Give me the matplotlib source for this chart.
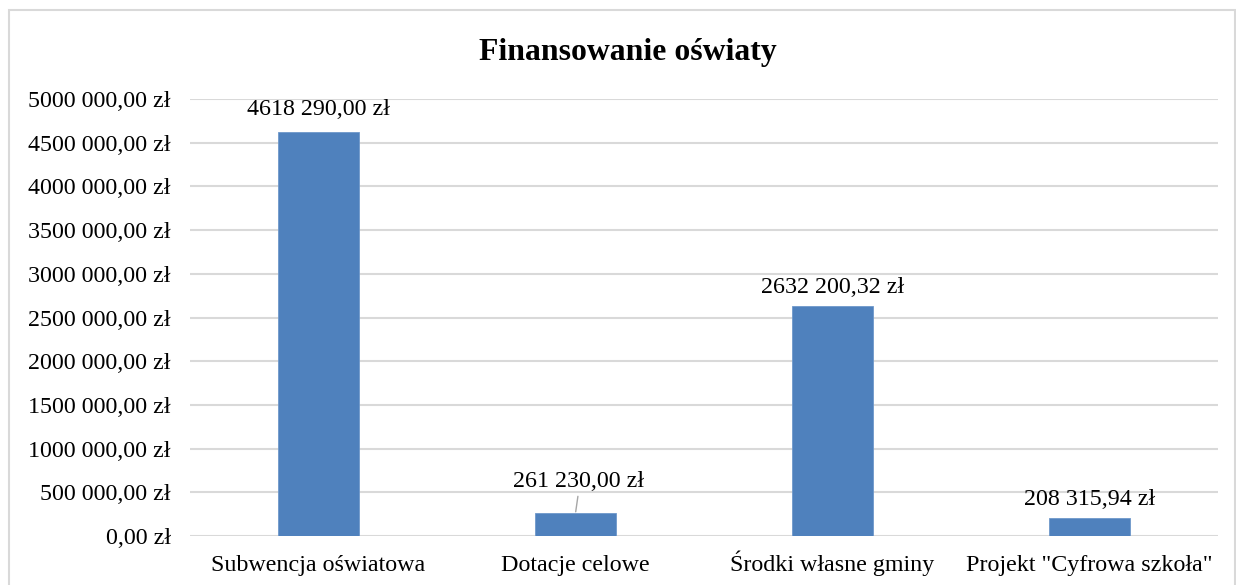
import matplotlib.pyplot as plt
from matplotlib.patches import Rectangle
from matplotlib.ticker import FuncFormatter

plt.rcParams['font.family'] = ['Liberation Serif', 'DejaVu Serif']

# data
categories = ['Subwencja oświatowa', 'Dotacje celowe', 'Środki własne gminy',
              'Projekt "Cyfrowa szkoła"']
amounts = [4618290.00, 261230.00, 2632200.32, 208315.94]
y_ticks = [0, 500000, 1000000, 1500000, 2000000, 2500000, 3000000,
           3500000, 4000000, 4500000, 5000000]

BAR_COLOR = '#4F81BD'
GRID_COLOR = '#D9D9D9'
W, H, DPI = 1236, 585, 100


def pln(v, pos=None):
    """Format like Excel's Polish currency: '4618 290,00 zł'."""
    whole, frac = f'{v:.2f}'.split('.')
    if len(whole) > 3:
        whole = whole[:-3] + ' ' + whole[-3:]
    return f'{whole},{frac} zł'


fig = plt.figure(figsize=(W / DPI, H / DPI), dpi=DPI)
ax = fig.add_axes([190 / W, 1 - 536 / H, (1218 - 190) / W, (536 - 99) / H])

x = range(len(categories))
ax.bar(x, amounts, width=0.315, color=BAR_COLOR, edgecolor='#6F98CB',
       linewidth=0.6, zorder=3)

ax.set_xlim(-0.5, len(categories) - 0.5)
ax.set_ylim(0, 5000000)
ax.set_yticks(y_ticks)
ax.yaxis.set_major_formatter(FuncFormatter(pln))
ax.set_xticks(list(x))
ax.set_xticklabels(categories, va='baseline')
ax.tick_params(axis='both', length=0, labelsize=17.3, colors='black')
ax.tick_params(axis='y', pad=14)
ax.tick_params(axis='x', pad=25.5)
ax.grid(axis='y', color=GRID_COLOR, linewidth=1.5, zorder=0)
for s in ax.spines.values():
    s.set_visible(False)

# data labels (pixel offsets above bar top); the second one has a leader line
offsets = [(0, 17), (3, 26), (0, 13), (0, 13)]
for i, v in enumerate(amounts):
    dx, dy = offsets[i]
    if i == 1:
        ax.annotate(pln(v), xy=(i, v), xytext=(dx, dy),
                    textcoords='offset pixels', ha='center', va='baseline',
                    fontsize=17.3,
                    arrowprops=dict(arrowstyle='-', color='#A6A6A6', lw=1,
                                    shrinkA=1, shrinkB=1, relpos=(0.5, 0)))
    else:
        ax.annotate(pln(v), xy=(i, v), xytext=(dx, dy),
                    textcoords='offset pixels', ha='center', va='baseline',
                    fontsize=17.3)

fig.text(628 / W, 1 - 60 / H, 'Finansowanie oświaty', ha='center',
         va='baseline', fontsize=22.9, fontweight='bold')

# chart area border
fig.patches.append(Rectangle((9 / W, -0.05), (1235 - 9) / W, 1.05 - 10 / H,
                             transform=fig.transFigure, fill=False,
                             edgecolor=GRID_COLOR, linewidth=1.5))

fig.savefig('out.png', dpi=DPI)
